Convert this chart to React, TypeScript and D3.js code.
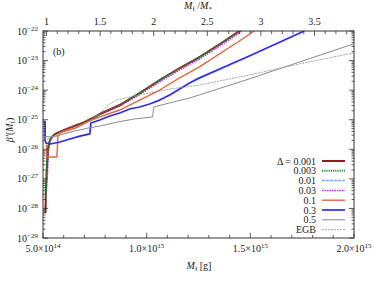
import { useEffect, useRef } from "react";
import * as d3 from "d3";

const WIDTH = 374;
const HEIGHT = 281;
const MARGIN = { top: 31, right: 20, bottom: 43, left: 43 };
const FONT = "'Liberation Serif', 'DejaVu Serif', serif";

// M_f in units of 1e14 g, beta' dimensionless
const M_STAR = 5.17;
const X_MAJOR = [5, 10, 15, 20];
const X_MAJOR_LABELS = ["5.0", "1.0", "1.5", "2.0"];
const X_MAJOR_EXP = ["14", "15", "15", "15"];
const TOP_MAJOR = [1, 1.5, 2, 2.5, 3, 3.5];
const Y_DECADES = [-29, -28, -27, -26, -25, -24, -23, -22];

const m001 = [5.12, 5.14, 5.19, 5.24, 5.29, 5.38, 5.58, 5.91, 6.39, 7.02, 7.5, 7.74, 8.7, 9.66, 10.63, 11.59, 12.55, 13.75, 14.47];
const b001 = [7.0e-29, 4.2e-28, 2.9e-27, 9.5e-27, 1.63e-26, 2.4e-26, 3.3e-26, 4.15e-26, 5.7e-26, 8.4e-26, 1.24e-25, 1.56e-25, 3.14e-25, 8.0e-25, 2.2e-24, 5.6e-24, 1.32e-23, 4.6e-23, 1.0e-22];

const m003 = [5.14, 5.19, 5.24, 5.29, 5.38, 5.58, 5.91, 6.39, 7.02, 7.5, 7.74, 8.7, 9.66, 10.63, 11.59, 12.55, 13.75, 14.48];
const b003 = [2.25e-28, 2.9e-27, 9.5e-27, 1.62e-26, 2.4e-26, 3.3e-26, 4.15e-26, 5.7e-26, 8.4e-26, 1.23e-25, 1.55e-25, 3.12e-25, 7.9e-25, 2.18e-24, 5.5e-24, 1.3e-23, 4.5e-23, 1.0e-22];

const m01 = [5.17, 5.19, 5.24, 5.29, 5.38, 5.58, 5.91, 6.39, 7.02, 7.5, 7.74, 8.7, 9.66, 10.63, 11.59, 12.55, 13.75, 14.5];
const b01 = [5.3e-28, 2.0e-27, 9.5e-27, 1.6e-26, 2.35e-26, 3.25e-26, 4.1e-26, 5.6e-26, 8.3e-26, 1.22e-25, 1.54e-25, 3.1e-25, 7.9e-25, 2.15e-24, 5.5e-24, 1.3e-23, 4.5e-23, 1.0e-22];

const m03 = [5.22, 5.24, 5.27, 5.31, 5.4, 5.6, 5.93, 6.41, 7.04, 7.52, 7.76, 8.72, 9.68, 10.65, 11.61, 12.57, 13.77, 14.6];
const b03 = [1.58e-27, 4.3e-27, 9.5e-27, 1.55e-26, 2.3e-26, 3.2e-26, 4.0e-26, 5.5e-26, 8.1e-26, 1.18e-25, 1.48e-25, 2.9e-25, 7.3e-25, 1.95e-24, 4.9e-24, 1.15e-23, 4.0e-23, 1.0e-22];

const m1 = [5.17, 5.17, 5.67, 5.72, 5.82, 6.06, 6.54, 7.02, 7.74, 8.7, 9.66, 10.63, 11.59, 12.55, 14.47, 15.19];
const b1 = [1.4e-26, 5.5e-27, 5.5e-27, 2.8e-26, 3.55e-26, 4.15e-26, 5.2e-26, 7.7e-26, 1.24e-25, 2.13e-25, 4.6e-25, 1.01e-24, 2.6e-24, 6.1e-24, 4.6e-23, 1.0e-22];

const m3 = [5.1, 5.1, 5.14, 5.34, 5.82, 6.3, 6.78, 7.26, 7.31, 7.74, 8.22, 8.7, 9.18, 9.66, 10.14, 10.63, 11.11, 11.59, 12.07, 12.55, 14.95, 17.6];
const b3 = [9.0e-26, 2.06e-26, 1.63e-26, 1.51e-26, 1.76e-26, 2.23e-26, 2.8e-26, 3.3e-26, 7.7e-26, 9.8e-26, 1.33e-25, 1.69e-25, 2.3e-25, 2.69e-25, 3.4e-25, 4.6e-25, 6.85e-25, 1.09e-24, 1.74e-24, 2.6e-24, 1.43e-23, 1.0e-22];

const m5 = [5.0, 5.34, 5.82, 6.54, 7.16, 7.74, 8.61, 9.42, 10.29, 10.34, 11.11, 12.07, 14.95, 17.36, 19.95];
const b5 = [2.8e-26, 2.6e-26, 3.04e-26, 4.15e-26, 5.2e-26, 6.1e-26, 8.4e-26, 1.06e-25, 1.24e-25, 2.69e-25, 3.7e-25, 5.4e-25, 2.4e-24, 8.9e-24, 3.6e-23];

const mEGB = [5.05, 5.34, 5.82, 6.3, 6.78, 7.26, 7.74, 8.22, 8.56, 9.18, 10.14, 11.11, 12.55, 14.95, 17.36, 19.95];
const bEGB = [2.06e-26, 2.4e-26, 3.04e-26, 4.15e-26, 5.7e-26, 9.0e-26, 1.69e-25, 3.4e-25, 4.6e-25, 5.9e-25, 8.0e-25, 1.09e-24, 1.49e-24, 3.25e-24, 7.7e-24, 1.8e-23];

const SERIES = [
  { label: "Δ = 0.001", m: m001, b: b001, color: "#8e1c1c", width: 2, dash: null },
  { label: "0.003", m: m003, b: b003, color: "#2f8a3a", width: 2, dash: "1.2,1" },
  { label: "0.01", m: m01, b: b01, color: "#7aa6f2", width: 1.5, dash: "3,1" },
  { label: "0.03", m: m03, b: b03, color: "#b52de0", width: 1.5, dash: "1.5,1" },
  { label: "0.1", m: m1, b: b1, color: "#e0673a", width: 1.4, dash: null },
  { label: "0.3", m: m3, b: b3, color: "#2b2bf5", width: 1.7, dash: null },
  { label: "0.5", m: m5, b: b5, color: "#8a8a8a", width: 1, dash: null },
  { label: "EGB", m: mEGB, b: bEGB, color: "#9a9a9a", width: 0.9, dash: "2,1" },
];
// draw order: the cluster of small Δ with purple underneath
const DRAW_ORDER = [3, 2, 0, 1, 4, 5, 6, 7];

export default function App() {
  const svgRef = useRef<SVGSVGElement>(null);

  useEffect(() => {
    const svg = svgRef.current;
    if (!svg) return;
    const root = d3.select(svg);
    root.selectAll("*").remove();

    const x0 = MARGIN.left;
    const x1 = WIDTH - MARGIN.right;
    const y0 = MARGIN.top;
    const y1 = HEIGHT - MARGIN.bottom;

    const xScale = d3.scaleLinear().domain([5, 20]).range([x0, x1]);
    const topScale = d3.scaleLinear().domain([5 / M_STAR, 20 / M_STAR]).range([x0, x1]);
    const yScale = d3.scaleLog().domain([1e-29, 1e-22]).range([y1, y0]);

    root.append("defs").append("clipPath").attr("id", "plot-clip")
      .append("rect").attr("x", x0).attr("y", y0).attr("width", x1 - x0).attr("height", y1 - y0);

    // Curves
    const line = d3.line<[number, number]>()
      .x((d) => xScale(d[0]))
      .y((d) => yScale(d[1]));
    const curves = root.append("g").attr("clip-path", "url(#plot-clip)");
    for (const i of DRAW_ORDER) {
      const s = SERIES[i];
      const pts: [number, number][] = s.m.map((m, k) => [m, s.b[k]]);
      const p = curves.append("path")
        .datum(pts)
        .attr("d", line)
        .attr("fill", "none")
        .attr("stroke", s.color)
        .attr("stroke-width", s.width)
        .attr("stroke-linejoin", "round");
      if (s.dash) p.attr("stroke-dasharray", s.dash);
    }

    // Frame
    root.append("rect")
      .attr("x", x0).attr("y", y0).attr("width", x1 - x0).attr("height", y1 - y0)
      .attr("fill", "none").attr("stroke", "#333").attr("stroke-width", 1);

    const ticks = root.append("g").attr("stroke", "#333").attr("stroke-width", 0.8);

    // Bottom axis ticks (every 1e14 g)
    for (let m = 5; m <= 20; m += 1) {
      const major = X_MAJOR.includes(m);
      const len = major ? 5 : 3;
      const x = xScale(m);
      ticks.append("line").attr("x1", x).attr("x2", x).attr("y1", y1).attr("y2", y1 - len);
    }
    X_MAJOR.forEach((m, i) => {
      const t = root.append("text")
        .attr("x", xScale(m)).attr("y", y1 + 14)
        .attr("text-anchor", "middle")
        .attr("font-family", FONT).attr("font-size", 10).attr("fill", "#222");
      t.append("tspan").text(`${X_MAJOR_LABELS[i]}×10`);
      t.append("tspan").attr("dy", -4).attr("font-size", 7).text(X_MAJOR_EXP[i]);
    });

    // Top axis ticks (M_f / M_*)
    for (let r = 1; r <= 3.85; r += 0.1) {
      const rr = Math.round(r * 10) / 10;
      const major = TOP_MAJOR.some((v) => Math.abs(v - rr) < 1e-6);
      const x = topScale(rr);
      ticks.append("line").attr("x1", x).attr("x2", x).attr("y1", y0).attr("y2", y0 + (major ? 5 : 3));
    }
    for (const r of TOP_MAJOR) {
      root.append("text")
        .attr("x", topScale(r)).attr("y", y0 - 6)
        .attr("text-anchor", "middle")
        .attr("font-family", FONT).attr("font-size", 10).attr("fill", "#222")
        .text(String(r));
    }

    // Left / right log ticks
    for (const e of Y_DECADES) {
      for (let k = 1; k <= 9; k++) {
        if (e === -22 && k > 1) break;
        const y = yScale(k * Math.pow(10, e));
        const len = k === 1 ? 5 : 2.5;
        ticks.append("line").attr("x1", x0).attr("x2", x0 + len).attr("y1", y).attr("y2", y);
        ticks.append("line").attr("x1", x1).attr("x2", x1 - len).attr("y1", y).attr("y2", y);
      }
      const t = root.append("text")
        .attr("x", x0 - 5).attr("y", yScale(Math.pow(10, e)) + 3.5)
        .attr("text-anchor", "end")
        .attr("font-family", FONT).attr("font-size", 10).attr("fill", "#222");
      t.append("tspan").text("10");
      t.append("tspan").attr("dy", -4).attr("font-size", 7).text(`−${-e}`);
    }

    // Axis titles
    const top = root.append("text")
      .attr("x", 198).attr("y", 9)
      .attr("text-anchor", "middle")
      .attr("font-family", FONT).attr("font-size", 10).attr("fill", "#222");
    top.append("tspan").attr("font-style", "italic").text("M");
    top.append("tspan").attr("font-size", 7).attr("dy", 2).text("f");
    top.append("tspan").attr("dy", -2).text(" /");
    top.append("tspan").attr("font-style", "italic").text("M");
    top.append("tspan").attr("font-size", 7).attr("dy", 2).text("*");

    const bottom = root.append("text")
      .attr("x", 199).attr("y", 269)
      .attr("text-anchor", "middle")
      .attr("font-family", FONT).attr("font-size", 10).attr("fill", "#222");
    bottom.append("tspan").attr("font-style", "italic").text("M");
    bottom.append("tspan").attr("font-size", 7).attr("dy", 2).text("f");
    bottom.append("tspan").attr("dy", -2).text(" [g]");

    const ylab = root.append("text")
      .attr("transform", `translate(13,${130}) rotate(-90)`)
      .attr("text-anchor", "middle")
      .attr("font-family", FONT).attr("font-size", 10).attr("fill", "#222");
    ylab.append("tspan").attr("font-style", "italic").text("β′");
    ylab.append("tspan").text("(");
    ylab.append("tspan").attr("font-style", "italic").text("M");
    ylab.append("tspan").attr("font-size", 7).attr("dy", 2).text("f");
    ylab.append("tspan").attr("dy", -2).text(")");

    root.append("text")
      .attr("x", 53).attr("y", 55)
      .attr("font-family", FONT).attr("font-size", 10).attr("fill", "#222")
      .text("(b)");

    // Legend
    SERIES.forEach((s, i) => {
      const y = 161 + i * 9.8;
      root.append("text")
        .attr("x", 316).attr("y", y + 3.5)
        .attr("text-anchor", "end")
        .attr("font-family", FONT).attr("font-size", 10).attr("fill", "#222")
        .text(s.label);
      const l = root.append("line")
        .attr("x1", 322).attr("x2", 345).attr("y1", y).attr("y2", y)
        .attr("stroke", s.color).attr("stroke-width", s.width);
      if (s.dash) l.attr("stroke-dasharray", s.dash);
    });
  }, []);

  return (
    <svg
      ref={svgRef}
      width={WIDTH}
      height={HEIGHT}
      style={{ position: "absolute", left: 0, top: 0, background: "#fff" }}
    />
  );
}
